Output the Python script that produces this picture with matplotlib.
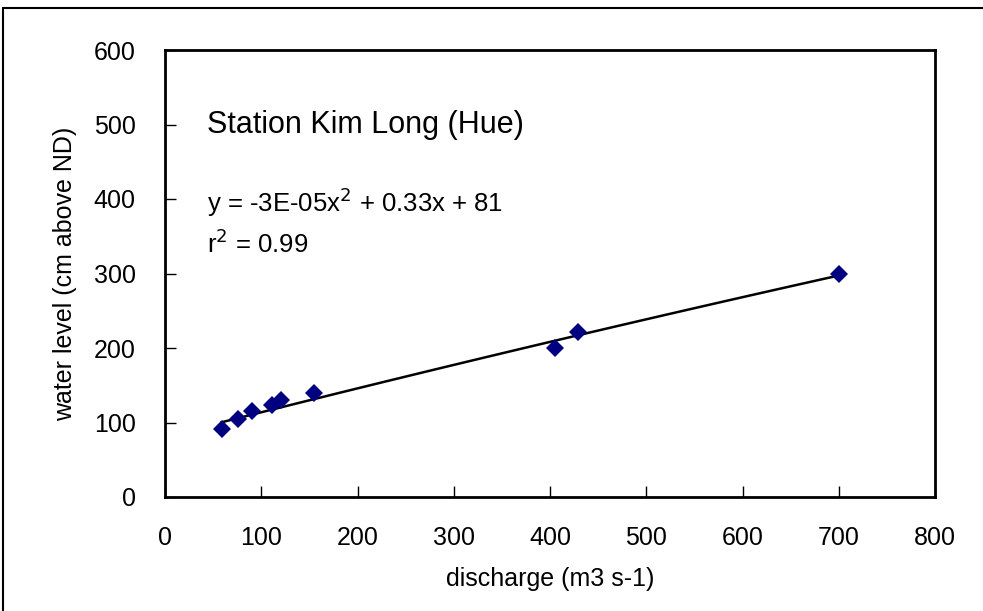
import numpy as np
import matplotlib.pyplot as plt
from matplotlib.patches import Rectangle

plt.rcParams['font.family'] = ['Liberation Sans', 'DejaVu Sans']

# observed discharge (m3 s-1) and water level (cm above ND)
discharge = [59, 76, 90, 111, 121, 155, 405, 429, 700]
water_level = [91, 105, 115, 124, 130, 140, 200, 221, 300]

# fitted polynomial y = a x^2 + b x + c
fit_coef = [-3e-05, 0.33, 81]

fig = plt.figure(figsize=(9.83, 6.11), dpi=100)
ax = fig.add_axes([165 / 983, 1 - 497 / 611, 770 / 983, 447 / 611])

# outer frame around the chart area
fig.patches.append(Rectangle((3 / 983, -0.05), 1.1, 1 - 8 / 611 + 0.05,
                             transform=fig.transFigure, fill=False,
                             edgecolor='black', linewidth=1.5))

xs = np.linspace(min(discharge), max(discharge), 60)
ax.plot(xs, np.polyval(fit_coef, xs), color='black', lw=1.8, zorder=2)
ax.plot(discharge, water_level, 'D', color='#000080', markersize=9.5,
        markeredgewidth=0, zorder=3)

ax.set_xlim(0, 800)
ax.set_ylim(0, 600)
ax.set_xticks(range(0, 801, 100))
ax.set_yticks(range(0, 601, 100))
ax.tick_params(direction='in', length=8, width=1, labelsize=18)
ax.tick_params(axis='x', pad=21)
ax.tick_params(axis='y', pad=21)
for s in ax.spines.values():
    s.set_linewidth(2)

ax.set_xlabel('discharge (m3 s-1)', fontsize=18, labelpad=12)
ax.set_ylabel('water level (cm above ND)', fontsize=18, labelpad=12)

ax.text(44, 500, 'Station Kim Long (Hue)', fontsize=22, va='center')
ax.text(44, 395, r'y = -3E-05x$^2$ + 0.33x + 81', fontsize=18.5, va='center')
ax.text(44, 340, r'r$^2$ = 0.99', fontsize=18.5, va='center')

fig.savefig('out.png', dpi=100)
